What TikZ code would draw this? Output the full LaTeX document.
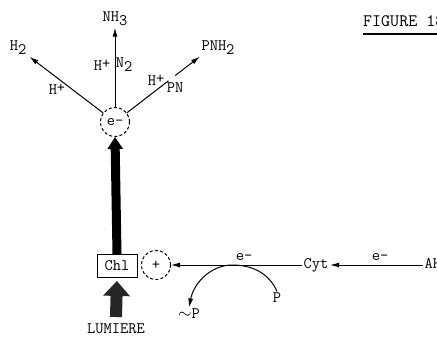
\documentclass[tikz,border=0pt]{standalone}
\usepackage{fontspec}
\usetikzlibrary{arrows.meta,positioning,calc}
\newcommand{\subt}[1]{\raisebox{-4pt}{#1}}
\newcommand{\supt}[1]{\raisebox{2pt}{#1}}

\begin{document}
\begin{tikzpicture}[
    x=1pt, y=-1pt,
    font=\fontsize{16}{18}\selectfont\ttfamily,
    >={Latex[length=9pt,width=5pt]},
    ring/.style={
        draw,
        circle,
        dash pattern=on 3pt off 2.2pt,
        minimum size=29pt,
        inner sep=0pt,
        line width=1pt
    },
    chlbox/.style={
        draw,
        minimum width=40pt,
        minimum height=23pt,
        inner sep=0pt,
        line width=0.9pt
    },
    tag/.style={inner sep=1.5pt},
    flow/.style={->,line width=1pt},
    heavy/.style={-{Triangle[length=12pt,width=15pt]},line width=9pt},
    light/.style={-{Triangle[length=15pt,width=26pt]},line width=12pt,black!85}
]
\useasboundingbox (0,0) rectangle (437,337);

% Electron and its products
\node[ring] (elec) at (115,122) {e-};
\node[tag] (nh3) at (115,19) {NH\subt{3}};
\node[tag] (h2) at (18,48) {H\subt{2}};
\node[tag] (pnh2) at (218,48) {PNH\subt{2}};

\node[tag] (hn) at (102,65) {H\supt{+}};
\node[tag] (n2) at (124,65) {N\subt{2}};
\node[tag] (hh) at (57,89) {H\supt{+}};
\node[tag] (hp) at (156,80) {H\supt{+}};
\node[tag] (pn) at (175,88) {PN};

\draw[flow] (elec) -- (nh3);
\draw[flow,shorten >=2pt] (elec) -- (h2);
\draw[line width=1pt] (elec) -- ($(elec.center)!0.63!(pnh2.south west)$);
\draw[flow] ($(elec.center)!0.71!(pnh2.south west)$) -- (pnh2.south west);

% Chlorophyll and light
\node[chlbox] (chl) at (117,266) {Chl};
\node[ring] (plus) at (156,265) {+};
\coordinate (sun) at (116,317);
\node[tag] (lum) at (116,329) {LUMIERE};

\draw[heavy] (chl.north) -- (elec.south);
\draw[light,shorten >=3pt] (sun) -- (chl.south);

% Electron transport chain
\node[tag] (cyt) at (316,265) {Cyt};
\node[tag,anchor=west] (donor) at (423,265) {AH\subt{2}};
\node[tag] (e1) at (244,257) {e-};
\node[tag] (e2) at (380,257) {e-};

\draw[flow] (cyt) -- (plus);
\draw[flow] (donor) -- (cyt);

% Phosphorylation
\node[tag] (pin) at (277,298) {P};
\node[tag] (pout) at (189,314) {$\sim$P};
\coordinate (touch) at (232,265);
\draw[flow]
    (pin.north) .. controls (269,273) and (252,265) .. (touch)
    .. controls (212,265) and (194,282) .. (pout.north);

% Title
\node[inner sep=0pt,anchor=west,font=\fontsize{17.5}{20}\selectfont\ttfamily] (fig) at (363,21) {FIGURE 18};
\draw[line width=1.6pt] ([yshift=-7pt]fig.south west) -- ([yshift=-7pt]fig.south east);

\end{tikzpicture}
\end{document}
